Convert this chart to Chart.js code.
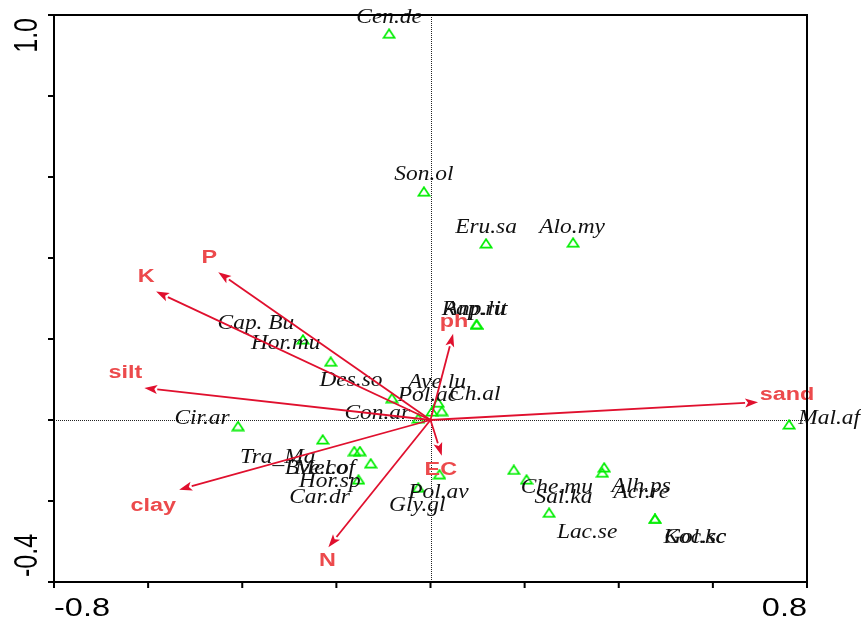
<!DOCTYPE html>
<html><head><meta charset="utf-8">
<script src="https://cdn.jsdelivr.net/npm/chart.js@4"></script>
<style>html,body{margin:0;padding:0;background:#fff;overflow:hidden}</style>
</head><body>
<canvas id="c" width="861" height="619"></canvas>
<script>
// ---- data ----
const speciesNames = ['Cen.de','Son.ol','Eru.sa','Alo.my','Rap.rit','Anp.lu','Cap. Bu','Hor.mu','Des.so',
  'Aye.lu','Pol.ac','Ch.al','Con.ar','Cir.ar','Tra_Ma','Bve.co','Mel.of','Hor.sp','Car.dr','Gly.gl',
  'Pol.av','Che.mu','Sal.ka','Alh.ps','Acr.re','Lac.se','Koc.sc','Gol.kc','Mal.af'];
const speciesX = [-0.088,-0.014,0.118,0.303,0.098,0.098,-0.271,-0.212,-0.082,
  0.016,0.003,0.024,-0.026,-0.409,-0.229,-0.162,-0.150,-0.127,-0.153,-0.026,
  0.019,0.177,0.204,0.369,0.365,0.252,0.477,0.477,0.762];
const speciesY = [0.954,0.564,0.436,0.438,0.236,0.236,0.199,0.144,0.054,
  0.043,0.021,0.022,0.004,-0.015,-0.048,-0.077,-0.077,-0.107,-0.147,-0.167,
  -0.134,-0.123,-0.147,-0.117,-0.130,-0.229,-0.244,-0.244,-0.011];

const envNames = ['sand','K','P','silt','clay','N','ph','EC'];
const envX = [0.696,-0.583,-0.451,-0.608,-0.534,-0.217,0.048,0.024];
const envY = [0.044,0.317,0.365,0.079,-0.172,-0.314,0.213,-0.088];

const xTickValues = [-0.8,-0.6,-0.4,-0.2,0,0.2,0.4,0.6,0.8];
const yTickValues = [-0.4,-0.2,0,0.2,0.4,0.6,0.8,1.0];
const xTickLabels = ['-0.8','0.8'];
const yTickLabels = ['-0.4','1.0'];

// ---- label layout (pixel offsets of label centre from its point) ----
const speciesLabelOffsets = [[0,-16],[0,-17],[0,-16],[-1,-15],[-2,-15],[-2,-15],[-47,-16],[-45,-18],[-41,-17],
  [-1,-20],[-4,-16],[33,-16],[-41,-5],[-36,-7],[-45,18],[-38,18],[-35,18],[-41,18],[-39,18],[-1,18],
  [-1,18],[43,18],[37,18],[37,19],[39,20],[38,20],[40,19],[40,19],[40,-6]];
const envLabelOffsets = [[29,-7],[-10,-15],[-9,-14],[-19,-15],[-26,16],[-1,14],[1,-12],[-1,14]];

const SX = 1.3; // horizontal stretch of the original picture
const ARROW = '#e0102e';
const ENVTXT = '#ec4a4c';
const GREEN = '#00ee00';

function tri() {
  const c = document.createElement('canvas');
  c.width = 14; c.height = 11;
  const g = c.getContext('2d');
  g.strokeStyle = GREEN; g.lineWidth = 1.7; g.lineJoin = 'miter';
  g.beginPath(); g.moveTo(1.5,9.6); g.lineTo(7,1.2); g.lineTo(12.5,9.6); g.closePath(); g.stroke();
  return c;
}

function sText(ctx, t, x, y, align, baseline, sx, rot) {
  ctx.save();
  ctx.translate(x, y);
  ctx.scale(sx, 1);
  if (rot) ctx.rotate(rot);
  ctx.textAlign = align; ctx.textBaseline = baseline;
  ctx.fillText(t, 0, 0);
  ctx.restore();
}

const biplot = {
  id: 'biplot',
  beforeDatasetsDraw(chart) {
    const {ctx, chartArea: a, scales: {x, y}} = chart;
    const x0 = x.getPixelForValue(0), y0 = y.getPixelForValue(0);
    ctx.save();
    ctx.strokeStyle = '#222'; ctx.lineWidth = 1; ctx.setLineDash([1,1]);
    ctx.beginPath();
    ctx.moveTo(a.left, Math.round(y0)+0.5); ctx.lineTo(a.right, Math.round(y0)+0.5);
    ctx.moveTo(Math.round(x0)+0.5, a.top); ctx.lineTo(Math.round(x0)+0.5, a.bottom);
    ctx.stroke();
    ctx.restore();
  },
  afterDatasetsDraw(chart) {
    const {ctx, scales: {x, y}} = chart;
    const x0 = x.getPixelForValue(0), y0 = y.getPixelForValue(0);
    ctx.save();
    // species labels
    ctx.fillStyle = '#111';
    ctx.font = 'italic 20px "Liberation Serif", "DejaVu Serif", serif';
    speciesNames.forEach((n, i) => {
      const px = x.getPixelForValue(speciesX[i]), py = y.getPixelForValue(speciesY[i]);
      const o = speciesLabelOffsets[i];
      sText(ctx, n, px + o[0], py + o[1], 'center', 'middle', 1.17);
    });
    // arrows
    envNames.forEach((n, i) => {
      const px = x.getPixelForValue(envX[i]), py = y.getPixelForValue(envY[i]);
      const ang = Math.atan2(py - y0, px - x0);
      const L = 13, W = 4.5;
      const bx = px - L*Math.cos(ang), by = py - L*Math.sin(ang);
      ctx.strokeStyle = ARROW; ctx.lineWidth = 1.8;
      ctx.beginPath(); ctx.moveTo(x0, y0); ctx.lineTo(bx, by); ctx.stroke();
      ctx.fillStyle = ARROW;
      ctx.beginPath();
      ctx.moveTo(px, py);
      ctx.lineTo(bx + W*Math.sin(ang), by - W*Math.cos(ang));
      ctx.lineTo(bx + 3*Math.cos(ang), by + 3*Math.sin(ang));
      ctx.lineTo(bx - W*Math.sin(ang), by + W*Math.cos(ang));
      ctx.closePath(); ctx.fill();
    });
    // environmental labels
    ctx.fillStyle = ENVTXT;
    ctx.font = 'bold 18px "Liberation Sans", Arial, sans-serif';
    envNames.forEach((n, i) => {
      const px = x.getPixelForValue(envX[i]), py = y.getPixelForValue(envY[i]);
      const o = envLabelOffsets[i];
      sText(ctx, n, px + o[0], py + o[1], 'center', 'middle', SX);
    });
    ctx.restore();
  },
  afterDraw(chart) {
    const {ctx, chartArea: a, scales: {x, y}} = chart;
    ctx.save();
    ctx.strokeStyle = '#000'; ctx.lineWidth = 2;
    ctx.strokeRect(a.left, a.top, a.right - a.left, a.bottom - a.top);
    ctx.beginPath();
    yTickValues.forEach(v => { const p = y.getPixelForValue(v); ctx.moveTo(a.left - 6, p); ctx.lineTo(a.left, p); });
    xTickValues.forEach(v => { const p = x.getPixelForValue(v); ctx.moveTo(p, a.bottom); ctx.lineTo(p, a.bottom + 6); });
    ctx.stroke();
    ctx.fillStyle = '#000';
    ctx.font = '25px "Liberation Sans", Arial, sans-serif';
    sText(ctx, xTickLabels[0], x.getPixelForValue(-0.8), a.bottom + 34, 'left', 'alphabetic', SX);
    sText(ctx, xTickLabels[1], x.getPixelForValue(0.8), a.bottom + 34, 'right', 'alphabetic', SX);
    sText(ctx, yTickLabels[0], 37, y.getPixelForValue(-0.4) - 5, 'left', 'alphabetic', SX, -Math.PI/2);
    sText(ctx, yTickLabels[1], 37, y.getPixelForValue(1.0) + 3, 'right', 'alphabetic', SX, -Math.PI/2);
    ctx.restore();
  }
};

const pts = speciesX.map((v, i) => ({x: v, y: speciesY[i]}));
new Chart(document.getElementById('c'), {
  type: 'scatter',
  data: { datasets: [{ data: pts, pointStyle: tri(), pointRadius: 6, pointHoverRadius: 6 }] },
  options: {
    responsive: false, animation: false, devicePixelRatio: 1,
    layout: { padding: { left: 54, right: 54, top: 15, bottom: 37 } },
    plugins: { legend: { display: false }, tooltip: { enabled: false } },
    scales: {
      x: { type: 'linear', min: -0.8, max: 0.8, grid: { display: false, drawTicks: false }, ticks: { display: false }, border: { display: false }, afterFit: s => { s.height = 0; } },
      y: { type: 'linear', min: -0.4, max: 1.0, grid: { display: false, drawTicks: false }, ticks: { display: false }, border: { display: false }, afterFit: s => { s.width = 0; } }
    }
  },
  plugins: [biplot]
});
</script>
</body></html>
